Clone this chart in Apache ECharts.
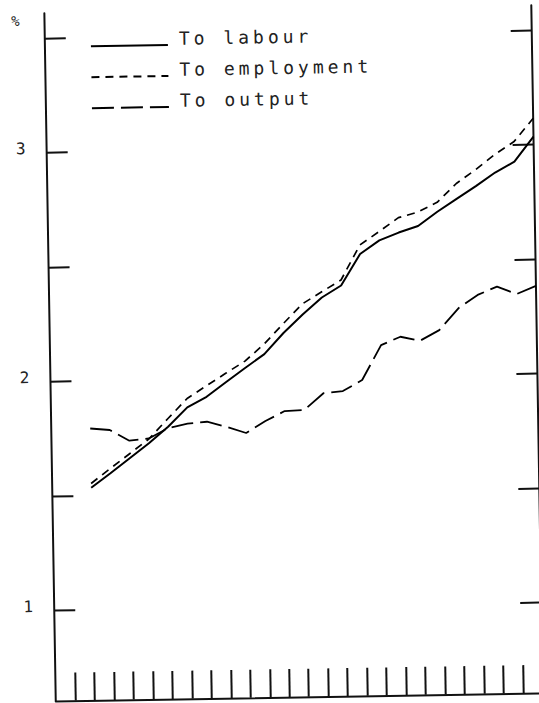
<!DOCTYPE html>
<html>
<head>
<meta charset="utf-8">
<script src="https://cdn.jsdelivr.net/npm/echarts@6/dist/echarts.min.js"></script>
<style>
  html, body { margin: 0; padding: 0; background: #fff; overflow: hidden; }
  #chart { width: 539px; height: 703px; transform: rotate(-0.95deg); transform-origin: 50% 50%; }
  /* plotter-style lettering: wide, evenly spaced characters */
  #chart text { letter-spacing: 4px; }
</style>
</head>
<body>
<div id="chart"></div>
<script>
// Period index along the horizontal axis (one point per year)
const periods = [1, 2, 3, 4, 5, 6, 7, 8, 9, 10, 11, 12, 13, 14, 15, 16, 17, 18, 19, 20, 21, 22, 23, 24];

// Growth rates, % per year
const toLabour = [1.534, 1.596, 1.660, 1.724, 1.795, 1.878, 1.923, 1.985, 2.046, 2.105, 2.196, 2.275,
                  2.348, 2.399, 2.535, 2.593, 2.626, 2.653, 2.714, 2.769, 2.823, 2.881, 2.927, 3.035];
const toEmployment = [1.553, 1.617, 1.680, 1.743, 1.831, 1.917, 1.971, 2.024, 2.076, 2.149, 2.237, 2.322,
                      2.373, 2.423, 2.575, 2.632, 2.691, 2.714, 2.755, 2.836, 2.895, 2.960, 3.015, 3.115];
const toOutput = [1.793, 1.785, 1.737, 1.745, 1.789, 1.807, 1.814, 1.790, 1.762, 1.813, 1.855, 1.858,
                  1.930, 1.938, 1.985, 2.136, 2.171, 2.152, 2.197, 2.291, 2.348, 2.383, 2.349, 2.383];

const seriesNames = ['To labour', 'To employment', 'To output'];

// Axis marks
const xTickValues = [0, 1, 2, 3, 4, 5, 6, 7, 8, 9, 10, 11, 12, 13, 14, 15, 16, 17, 18, 19, 20, 21, 22, 23];
const yTickValues = [1, 1.5, 2, 2.5, 3, 3.5];
const yLabelValues = [1, 2, 3];

const FONT = 'DejaVu Sans Mono';
const INK = '#111';
const TEXT_INK = '#222';

const chart = echarts.init(document.getElementById('chart'), null, { renderer: 'svg' });

const pairs = vals => periods.map((p, i) => [p, vals[i]]);

const yRange = { min: 0.6064, max: 3.6088 };

chart.setOption({
  animation: false,
  backgroundColor: '#fff',
  grid: { left: 50, right: 2, top: 9.6, bottom: 5.7, containLabel: false },
  legend: {
    orient: 'vertical',
    left: 95,
    top: 27.8,
    padding: 0,
    itemWidth: 77,
    itemHeight: 31,
    itemGap: 0,
    selectedMode: false,
    itemStyle: { opacity: 0 },
    // trailing blank line lifts the caption so it sits on the sample line
    formatter: name => name + '\n',
    textStyle: { fontFamily: FONT, fontSize: 18, color: TEXT_INK, lineHeight: 13, padding: [0, 0, 0, 6] },
    data: seriesNames
  },
  xAxis: {
    type: 'value',
    min: -1,
    max: 24,
    axisLine: { show: true, onZero: false, lineStyle: { color: INK, width: 2 } },
    axisTick: { show: true, inside: true, length: 28, customValues: xTickValues, lineStyle: { color: INK, width: 2 } },
    axisLabel: { show: false },
    splitLine: { show: false }
  },
  yAxis: [
    {
      type: 'value',
      position: 'left',
      min: yRange.min,
      max: yRange.max,
      name: '%',
      nameLocation: 'end',
      nameGap: -7.2,
      nameTextStyle: { fontFamily: FONT, fontSize: 14, color: TEXT_INK, align: 'center', verticalAlign: 'middle', padding: [0, 54, 0, 0] },
      axisLine: { show: true, onZero: false, lineStyle: { color: INK, width: 2 } },
      axisTick: { show: true, inside: true, length: 21, customValues: yTickValues, lineStyle: { color: INK, width: 2 } },
      axisLabel: {
        show: true, customValues: yLabelValues, inside: false, margin: 24,
        align: 'center', verticalAlign: 'bottom', lineHeight: 9,
        fontFamily: FONT, fontSize: 16, color: TEXT_INK
      },
      splitLine: { show: false }
    },
    {
      type: 'value',
      position: 'right',
      min: yRange.min,
      max: yRange.max,
      axisLine: { show: true, onZero: false, lineStyle: { color: INK, width: 2 } },
      axisTick: { show: true, inside: true, length: 21, customValues: yTickValues, lineStyle: { color: INK, width: 2 } },
      axisLabel: { show: false },
      splitLine: { show: false }
    }
  ],
  series: [
    {
      name: seriesNames[0], type: 'line', symbol: 'none', data: pairs(toLabour),
      lineStyle: { color: '#000', width: 2, type: 'solid' }, itemStyle: { color: '#000' }
    },
    {
      name: seriesNames[1], type: 'line', symbol: 'none', data: pairs(toEmployment),
      lineStyle: { color: '#000', width: 1.7, type: [8, 6] }, itemStyle: { color: '#000' }
    },
    {
      name: seriesNames[2], type: 'line', symbol: 'none', data: pairs(toOutput),
      lineStyle: { color: '#000', width: 1.8, type: [22, 7] }, itemStyle: { color: '#000' }
    }
  ]
});
</script>
</body>
</html>
